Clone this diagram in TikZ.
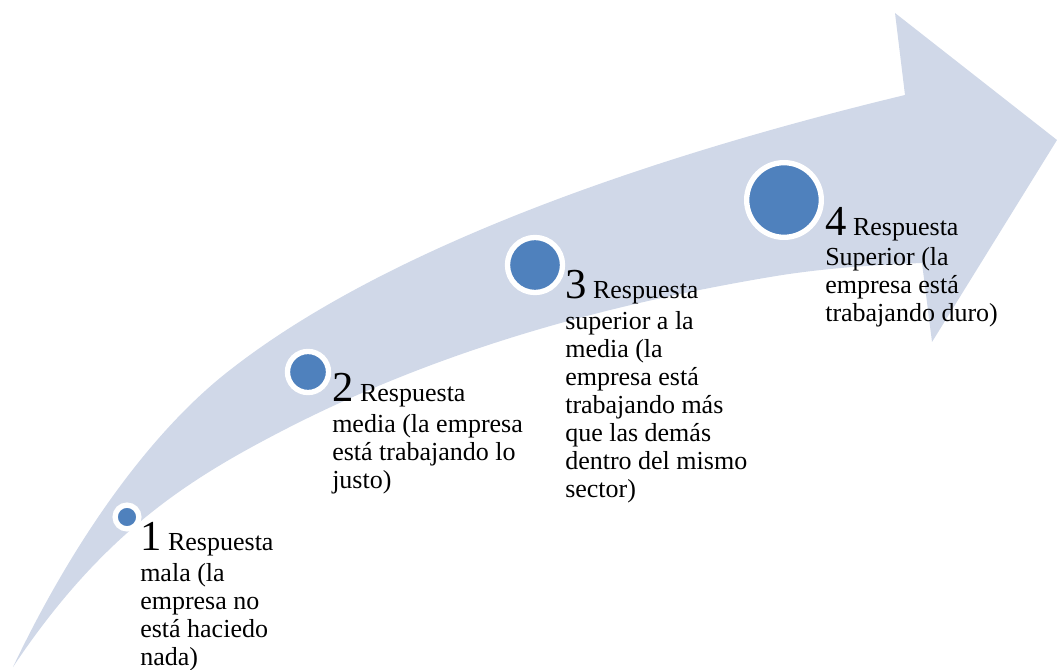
\documentclass[tikz,border=0pt]{standalone}
\usepackage{fontspec}
\setmainfont{Liberation Serif}
\usetikzlibrary{positioning}

\definecolor{arrowfill}{HTML}{D0D8E8}
\definecolor{dotblue}{HTML}{4F81BD}

\newcommand{\stepnum}[1]{{\fontsize{32}{21}\selectfont #1}}

\begin{document}
\begin{tikzpicture}[
  x=0.75pt, y=-0.75pt,
  dot node/.style={
    circle,
    draw=white,
    fill=dotblue,
    line width=4pt,
    inner sep=0pt,
    minimum size=#1,
  },
  step text/.style={
    anchor=base west,
    align=left,
    inner sep=0pt,
    font=\fontsize{19.5}{21}\selectfont,
  },
  ]
  \useasboundingbox (0,0) rectangle (1057,670);

  % the curved arrow
  \coordinate (tail) at (13,667);
  \coordinate (head-in-top) at (905,95);
  \coordinate (head-top) at (895,13);
  \coordinate (head-tip) at (1057,140);
  \coordinate (head-bottom) at (932,342);
  \coordinate (head-in-bottom) at (922,263);
  \path[fill=arrowfill]
  (tail) .. controls (73,541) and (150,432) .. (230,370)
  .. controls (400,237) and (685,148) .. (head-in-top)
  -- (head-top) -- (head-tip) -- (head-bottom) -- (head-in-bottom)
  .. controls (872,265) and (820,268.5) .. (770,277)
  .. controls (610,304) and (440,348.8) .. (280,432)
  .. controls (190,478.8) and (103,532) .. (tail)
  -- cycle;

  % the four dots
  \node[dot node=17.8pt] (dot-1) at (127,517) {};
  \node[dot node=30.8pt] (dot-2) at (308,372) {};
  \node[dot node=41.3pt] (dot-3) at (535,265) {};
  \node[dot node=56pt]   (dot-4) at (784,200) {};

  % the texts (placed by the baseline of their last line)
  \node[step text] (text-1) at (140,665) {\stepnum{1} Respuesta\\[2pt]
    mala (la\\ empresa no\\ está haciedo\\ nada)};
  \node[step text] (text-2) at (332,488) {\stepnum{2} Respuesta\\[2pt]
    media (la empresa\\ está trabajando lo\\ justo)};
  \node[step text] (text-3) at (565,497) {\stepnum{3} Respuesta\\[2pt]
    superior a la\\ media (la\\ empresa está\\ trabajando más\\
    que las demás\\ dentro del mismo\\ sector)};
  \node[step text] (text-4) at (825,322) {\stepnum{4} Respuesta\\[2pt]
    Superior (la\\ empresa está\\ trabajando duro)};
\end{tikzpicture}
\end{document}
